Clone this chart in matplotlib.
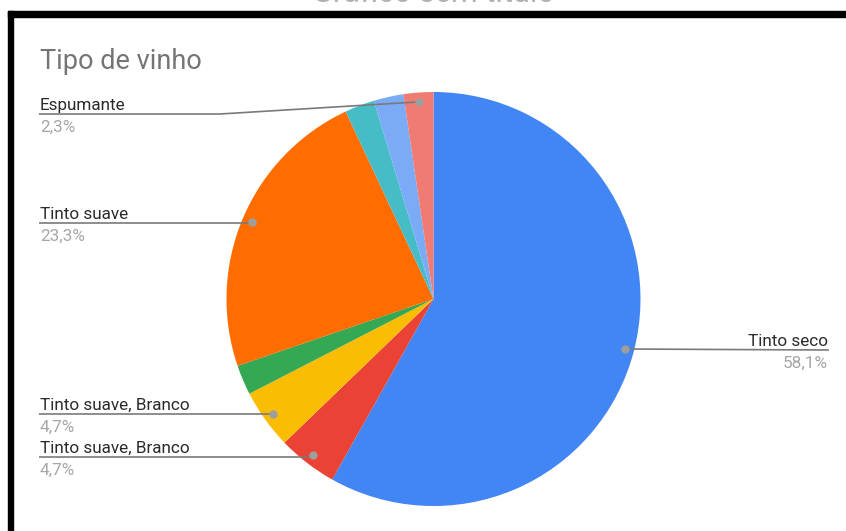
import math
import matplotlib
matplotlib.use("Agg")
import matplotlib.pyplot as plt
from matplotlib.patches import Rectangle

plt.rcParams["font.family"] = ["Roboto", "DejaVu Sans"]

# respostas por tipo de vinho (fatias no sentido horário a partir do topo)
categorias = ["Tinto seco", "Tinto suave, Branco", "Tinto suave, Branco", "Outro 1",
              "Tinto suave", "Outro 2", "Outro 3", "Espumante"]
respostas = [25, 2, 2, 1, 10, 1, 1, 1]
cores = ["#4285F4", "#EA4335", "#FBBC04", "#34A853",
         "#FF6D01", "#46BDC6", "#7BAAF7", "#F07B72"]
rotulada = [True, True, True, False, True, False, False, True]

# posição das linhas de rótulo: (y da linha, lado, x do cotovelo)
linhas = {0: (350, "dir", None), 1: (457, "esq", None), 2: (414, "esq", None),
          4: (223, "esq", None), 7: (114, "esq", 220)}

W, H = 846, 531
fig = plt.figure(figsize=(W / 100, H / 100), dpi=100)
ax = fig.add_axes([0, 0, 1, 1])

cx, cy, r = 433.5, 299, 207
wedges, _ = ax.pie(respostas, colors=cores, startangle=-90, counterclock=True,
                   center=(cx, cy), radius=r, frame=True,
                   wedgeprops=dict(linewidth=0))
ax.set_xlim(0, W)
ax.set_ylim(H, 0)
ax.set_aspect("equal")
ax.axis("off")

fs = 12.3
total = sum(respostas)
for i, w in enumerate(wedges):
    if not rotulada[i]:
        continue
    ang = math.radians((w.theta1 + w.theta2) / 2)
    px = cx + 0.955 * r * math.cos(ang)
    py = cy + 0.955 * r * math.sin(ang)
    ly, lado, cot = linhas[i]
    pct = f"{100 * respostas[i] / total:.1f}%".replace(".", ",")
    if lado == "esq":
        x0 = 39
        ex = cot if cot is not None else px
        ax.plot([x0, ex, px], [ly, ly, py], color="#7a7a7a", lw=1.2,
                solid_capstyle="butt", zorder=3)
        ax.text(x0 + 1, ly - 4, categorias[i], ha="left", va="baseline",
                fontsize=fs, color="#2b2b2b")
        ax.text(x0 + 1, ly + 6, pct, ha="left", va="top",
                fontsize=fs, color="#a6a6a6")
    else:
        x0 = 828
        ax.plot([px, x0], [py, ly], color="#7a7a7a", lw=1.2, zorder=3)
        ax.text(x0, ly - 4, categorias[i], ha="right", va="baseline",
                fontsize=fs, color="#2b2b2b")
        ax.text(x0, ly + 6, pct, ha="right", va="top",
                fontsize=fs, color="#a6a6a6")
    ax.plot(px, py, "o", ms=5, color="#9e9e9e", zorder=4)

# título do gráfico
ax.text(40, 69, "Tipo de vinho", ha="left", va="baseline",
        fontsize=19.5, color="#757575")

# título da página, cortado na borda superior
ax.text(433, 1.5, "Gráfico sem título", ha="center", va="baseline",
        fontsize=22, color="#b0b0b0", clip_on=True)

# moldura preta
ax.add_patch(Rectangle((8, 11), W, 6, color="black", zorder=5))
ax.add_patch(Rectangle((8, 11), 5, H, color="black", zorder=5))

fig.savefig("out.png", dpi=100)
